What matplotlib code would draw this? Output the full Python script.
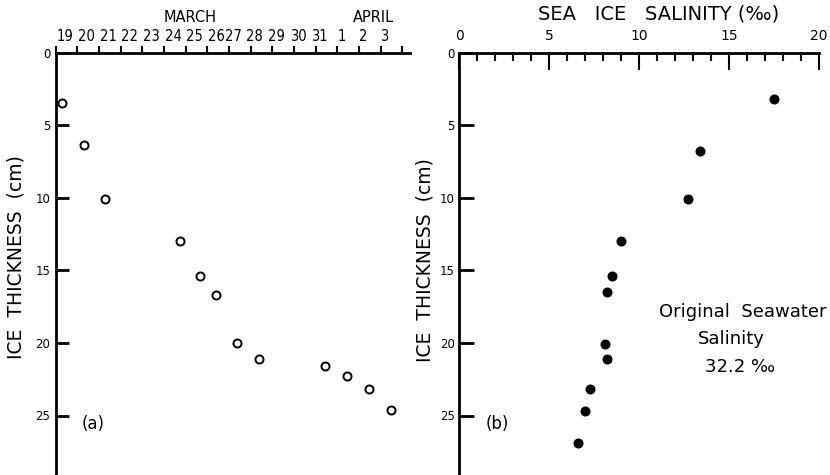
import numpy as np
import matplotlib
matplotlib.use("Agg")
import matplotlib.pyplot as plt
from matplotlib import font_manager
from matplotlib.font_manager import FontProperties

# ---------------- data ----------------
# (a) ice thickness vs time; time in days after 19 March 00:00
growth_days = [0.30, 1.32, 2.29, 5.75, 6.66, 7.40, 8.35, 9.38, 12.43, 13.43, 14.47, 15.46]
growth_thickness = [3.5, 6.4, 10.1, 13.0, 15.4, 16.7, 20.0, 21.1, 21.6, 22.3, 23.2, 24.6]

# (b) sea ice salinity vs ice thickness
salinity = [17.5, 13.4, 12.7, 9.0, 8.5, 8.2, 8.1, 8.2, 7.3, 7.0, 6.6]
salinity_thickness = [3.2, 6.8, 10.1, 13.0, 15.4, 16.5, 20.1, 21.1, 23.2, 24.7, 26.9]

date_labels = ["19", "20", "21", "22", "23", "24", "25", "26", "27", "28",
               "29", "30", "31", "1", "2", "3"]
thickness_ticks = [0, 5, 10, 15, 20, 25]
salinity_ticks = [0, 5, 10, 15, 20]

# ---------------- figure ----------------
W, H = 830, 475
fig = plt.figure(figsize=(W / 100, H / 100), dpi=100)
plt.rcParams['font.family'] = ['DejaVu Sans']

# look for a condensed / narrow face for the crowded date labels
narrow_fp = None
for f in font_manager.fontManager.ttflist:
    st = str(f.stretch).lower()
    nm = f.name.lower()
    fn = f.fname.lower()
    if ("condensed" in st or "condensed" in fn or "narrow" in nm or "narrow" in fn) \
            and "bold" not in fn and "oblique" not in fn and "italic" not in fn:
        narrow_fp = FontProperties(fname=f.fname, size=10.5)
        break
if narrow_fp is None:
    narrow_fp = FontProperties(family="DejaVu Sans", size=9.3)

y0_px = 52.5          # pixel row of thickness 0
px_per_cm = 14.52
ymax = (H - y0_px) / px_per_cm
ax_h = (H - y0_px) / H

axL = fig.add_axes([55.7 / W, 0, (410 - 55.7) / W, ax_h])
axR = fig.add_axes([459 / W, 0, (819 - 459) / W, ax_h])

for ax in (axL, axR):
    ax.set_ylim(ymax, 0)
    for s in ("right", "bottom"):
        ax.spines[s].set_visible(False)
    for s in ("left", "top"):
        ax.spines[s].set_linewidth(2.0)
    ax.xaxis.tick_top()
    ax.set_yticks(thickness_ticks)
    ax.set_yticklabels([str(t) for t in thickness_ticks])
    ax.set_ylabel("ICE  THICKNESS  (cm)", fontsize=13.5)
    ax.patch.set_alpha(0)

# ---- left panel ----
axL.set_xlim(0, 16.35)
axL.plot(growth_days, growth_thickness, linestyle="none", marker="o",
         markersize=5.8, markerfacecolor="white", markeredgecolor="black",
         markeredgewidth=1.4, clip_on=False)
axL.set_xticks(np.arange(0, len(date_labels) + 1))
axL.set_xticklabels([])
axL.tick_params(axis="x", which="major", direction="out", length=5, width=1.5)
idx = np.arange(len(date_labels))
lab_pos = idx + np.where(idx < 8, 0.42, 0.18)
axL.set_xticks(lab_pos, minor=True)
axL.set_xticklabels(date_labels, minor=True, fontproperties=narrow_fp)
axL.tick_params(axis="x", which="minor", length=0, pad=6, top=True, labeltop=True,
                bottom=False, labelbottom=False)
axL.tick_params(axis="y", direction="in", length=9, width=2, pad=4, labelsize=8.5)
axL.yaxis.set_label_coords(-0.0866, 0.516)
axL.text(0.105, 0.12, "(a)", transform=axL.transAxes, fontsize=12,
         ha="center", va="center")

fig.text(190 / W, 1 - 18 / H, "MARCH", fontsize=10.5, ha="center", va="center")
fig.text(373 / W, 1 - 18 / H, "APRIL", fontsize=10.5, ha="center", va="center")

# ---- right panel ----
axR.set_xlim(0, 20)
axR.plot(salinity, salinity_thickness, linestyle="none", marker="o",
         markersize=6.2, color="black", clip_on=False)
axR.set_xticks(salinity_ticks)
axR.set_xticklabels([str(t) for t in salinity_ticks], fontsize=10)
axR.set_xticks(np.arange(0, 21, 1), minor=True)
axR.tick_params(axis="x", which="major", direction="in", length=12, width=1.5, pad=6.5)
axR.tick_params(axis="x", which="minor", direction="in", length=6, width=1.5)
axR.tick_params(axis="y", direction="in", length=11, width=2, pad=3, labelsize=8.5)
axR.yaxis.set_label_coords(-0.0667, 0.509)
axR.text(0.106, 0.12, "(b)", transform=axR.transAxes, fontsize=12,
         ha="center", va="center")

axR.text(15.75, 17.85, "Original  Seawater", fontsize=13, ha="center", va="center")
axR.text(15.15, 19.73, "Salinity", fontsize=13, ha="center", va="center")
axR.text(15.6, 21.64, "32.2 \u2030", fontsize=13, ha="center", va="center")

fig.text(659 / W, 1 - 14 / H, "SEA   ICE   SALINITY (\u2030)", fontsize=14,
         ha="center", va="center")

fig.savefig("out.png", dpi=100)
